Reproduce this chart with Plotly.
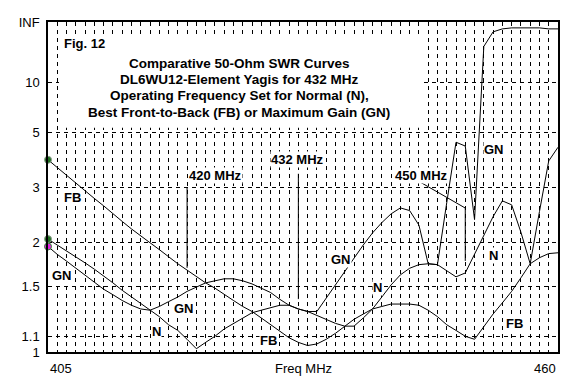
import plotly.graph_objects as go

# ---------------- data (SWR, 1 MHz steps) ----------------
freq = list(range(405, 461))

swr_fb = [3.79, 3.53, 3.30, 3.09, 2.90, 2.74, 2.59, 2.44, 2.31, 2.19,
          2.08, 1.99, 1.90, 1.81, 1.73, 1.66, 1.59, 1.53, 1.48, 1.42,
          1.37, 1.32, 1.28, 1.23, 1.18, 1.13, 1.09, 1.06, 1.04, 1.05,
          1.08, 1.12, 1.17, 1.22, 1.26, 1.30, 1.32, 1.34, 1.34, 1.34,
          1.33, 1.29, 1.24, 1.18, 1.14, 1.10, 1.08, 1.17, 1.26, 1.35,
          1.45, 1.58, 1.73, 1.80, 1.85, 1.86]

swr_n = [2.04, 1.96, 1.89, 1.81, 1.74, 1.67, 1.60, 1.53, 1.46, 1.40,
         1.34, 1.29, 1.24, 1.18, 1.14, 1.08, 1.02, 1.06, 1.10, 1.15,
         1.19, 1.23, 1.27, 1.29, 1.31, 1.33, 1.33, 1.30, 1.28, 1.25,
         1.22, 1.19, 1.17, 1.17, 1.23, 1.30, 1.40, 1.51, 1.61, 1.68,
         1.72, 1.73, 1.72, 1.65, 1.59, 1.63, 1.84, 2.08, 2.39, 2.69,
         2.61, 2.14, 1.73, 2.48, 3.75, 4.27]

swr_gn = [1.94, 1.84, 1.76, 1.68, 1.61, 1.54, 1.47, 1.42, 1.37, 1.33,
          1.30, 1.29, 1.32, 1.36, 1.40, 1.45, 1.49, 1.53, 1.55, 1.57,
          1.57, 1.55, 1.52, 1.48, 1.44, 1.38, 1.33, 1.30, 1.28, 1.28,
          1.39, 1.50, 1.64, 1.79, 1.96, 2.13, 2.29, 2.44, 2.55, 2.50,
          2.25, 1.73, 1.72, 2.65, 4.49, 4.32, 2.34, 26.0, 66.0, 95.0,
          111.0, 111.0, 111.0, 111.0, 95.0, 95.0]

y_tick_swr = [1, 1.1, 1.5, 2, 3, 5, 10]
y_tick_text = ["1", "1.1", "1.5", "2", "3", "5", "10"]
inf_text = "INF"
x_min, x_max = 405, 460

title_lines = ["Comparative 50-Ohm SWR Curves",
               "DL6WU12-Element Yagis for 432 MHz",
               "Operating Frequency Set for Normal (N),",
               "Best Front-to-Back (FB) or Maximum Gain (GN)"]
markers_mhz = [420, 432, 450]


def rho(s):
    """SWR -> reflection coefficient (the chart's vertical scale)."""
    return (s - 1.0) / (s + 1.0)


# ---------------- geometry ----------------
# the page body has an 8px margin, so the figure is made 8px smaller
BODY = 8
W, H = 583 - BODY, 387 - BODY
PX0, PY0, PW, PH = 48, 15, 510, 337          # plot area in window pixels
ML, MT = PX0 - BODY, PY0 - BODY
MR, MB = W - ML - PW, H - MT - PH


def fx(px):
    return x_min + (px - PX0) / PW * (x_max - x_min)


def fy(py):
    return 1 - (py - PY0) / PH


FONT = "Liberation Sans, Arial, sans-serif"

fig = go.Figure()
for s in (swr_fb, swr_n, swr_gn):
    fig.add_trace(go.Scatter(x=freq, y=[rho(v) for v in s], mode="lines",
                             line=dict(color="black", width=1),
                             showlegend=False, hoverinfo="skip"))

# start markers
for s, fill, edge in ((swr_fb, "#1f6e1f", "#8c9c8c"),
                      (swr_n, "#1f6e1f", "#8c9c8c"),
                      (swr_gn, "#e020e0", "#2e8b2e")):
    fig.add_trace(go.Scatter(x=[freq[0]], y=[rho(s[0])], mode="markers",
                             marker=dict(size=7, color=fill,
                                         line=dict(color=edge, width=1)),
                             cliponaxis=False, showlegend=False,
                             hoverinfo="skip"))

shapes = []
# white box behind the title (hides the grid)
shapes.append(dict(type="rect", xref="x", yref="y",
                   x0=fx(59), x1=fx(424), y0=fy(123), y1=fy(28),
                   fillcolor="white", line=dict(width=0), layer="above"))
# frequency marker lines
shapes.append(dict(type="line", x0=markers_mhz[0], x1=markers_mhz[0],
                   y0=fy(184), y1=fy(266), line=dict(color="black", width=1)))
shapes.append(dict(type="line", x0=markers_mhz[1], x1=markers_mhz[1],
                   y0=fy(170), y1=fy(298), line=dict(color="black", width=1)))
shapes.append(dict(type="line", x0=fx(421), x1=markers_mhz[2],
                   y0=fy(179), y1=fy(205), line=dict(color="black", width=1)))
shapes.append(dict(type="line", x0=markers_mhz[2], x1=markers_mhz[2],
                   y0=fy(205), y1=fy(259), line=dict(color="black", width=1)))

ann = []


def label(text, px, py, size=13, bold=True, xanchor="center", bg="white"):
    ann.append(dict(text=f"<b>{text}</b>" if bold else text,
                    x=fx(px), y=fy(py), xref="x", yref="y",
                    xanchor=xanchor, yanchor="middle", showarrow=False,
                    font=dict(family=FONT, size=size, color="black"),
                    bgcolor=bg, borderpad=0))


label("Fig. 12", 63, 37, size=13, xanchor="left", bg=None)
for i, t in enumerate(title_lines):
    label(t, 239, 57 + i * 16.7, size=13.5, bg=None)

label(f"{markers_mhz[0]} MHz", 215, 172)
label(f"{markers_mhz[1]} MHz", 297, 155)
label(f"{markers_mhz[2]} MHz", 421, 172)

# curve labels
label("FB", 72, 194)
label("GN", 62, 274)
label("N", 156, 331)
label("GN", 184, 308)
label("FB", 268, 340)
label("GN", 341, 258)
label("N", 377, 286)
label("GN", 494, 145)
label("N", 493, 253)
label("FB", 514, 323)

# axis texts
def axis_text(text, px, py, xanchor):
    ann.append(dict(text=text, x=fx(px), y=fy(py), xref="x", yref="paper",
                    xanchor=xanchor, yanchor="middle", showarrow=False,
                    font=dict(family=FONT, size=13, color="black")))


axis_text(str(x_min), PX0, 369, "left")
axis_text(str(x_max), PX0 + PW, 369, "right")
axis_text("Freq MHz", 303, 369, "center")
axis_text("SWR", 39, 309, "right")

fig.update_layout(
    width=W, height=H,
    margin=dict(l=ML, r=MR, t=MT, b=MB, pad=0),
    paper_bgcolor="white", plot_bgcolor="white",
    shapes=shapes, annotations=ann, showlegend=False,
    font=dict(family=FONT, size=13, color="black"),
)
fig.update_xaxes(range=[x_min, x_max], tick0=x_min, dtick=1,
                 showticklabels=False, ticks="",
                 showgrid=True, gridcolor="black", gridwidth=1,
                 griddash="4px,4px", zeroline=False,
                 showline=True, linecolor="black", linewidth=1.5, mirror=True)
fig.update_yaxes(range=[0, 1],
                 tickvals=[rho(s) for s in y_tick_swr] + [1.0],
                 ticktext=y_tick_text + [inf_text],
                 ticks="", ticklabelstandoff=4,
                 tickfont=dict(family=FONT, size=13, color="black"),
                 showgrid=True, gridcolor="black", gridwidth=1,
                 griddash="4px,4px", zeroline=False,
                 showline=True, linecolor="black", linewidth=1.5, mirror=True)

fig.write_html("out.html")
